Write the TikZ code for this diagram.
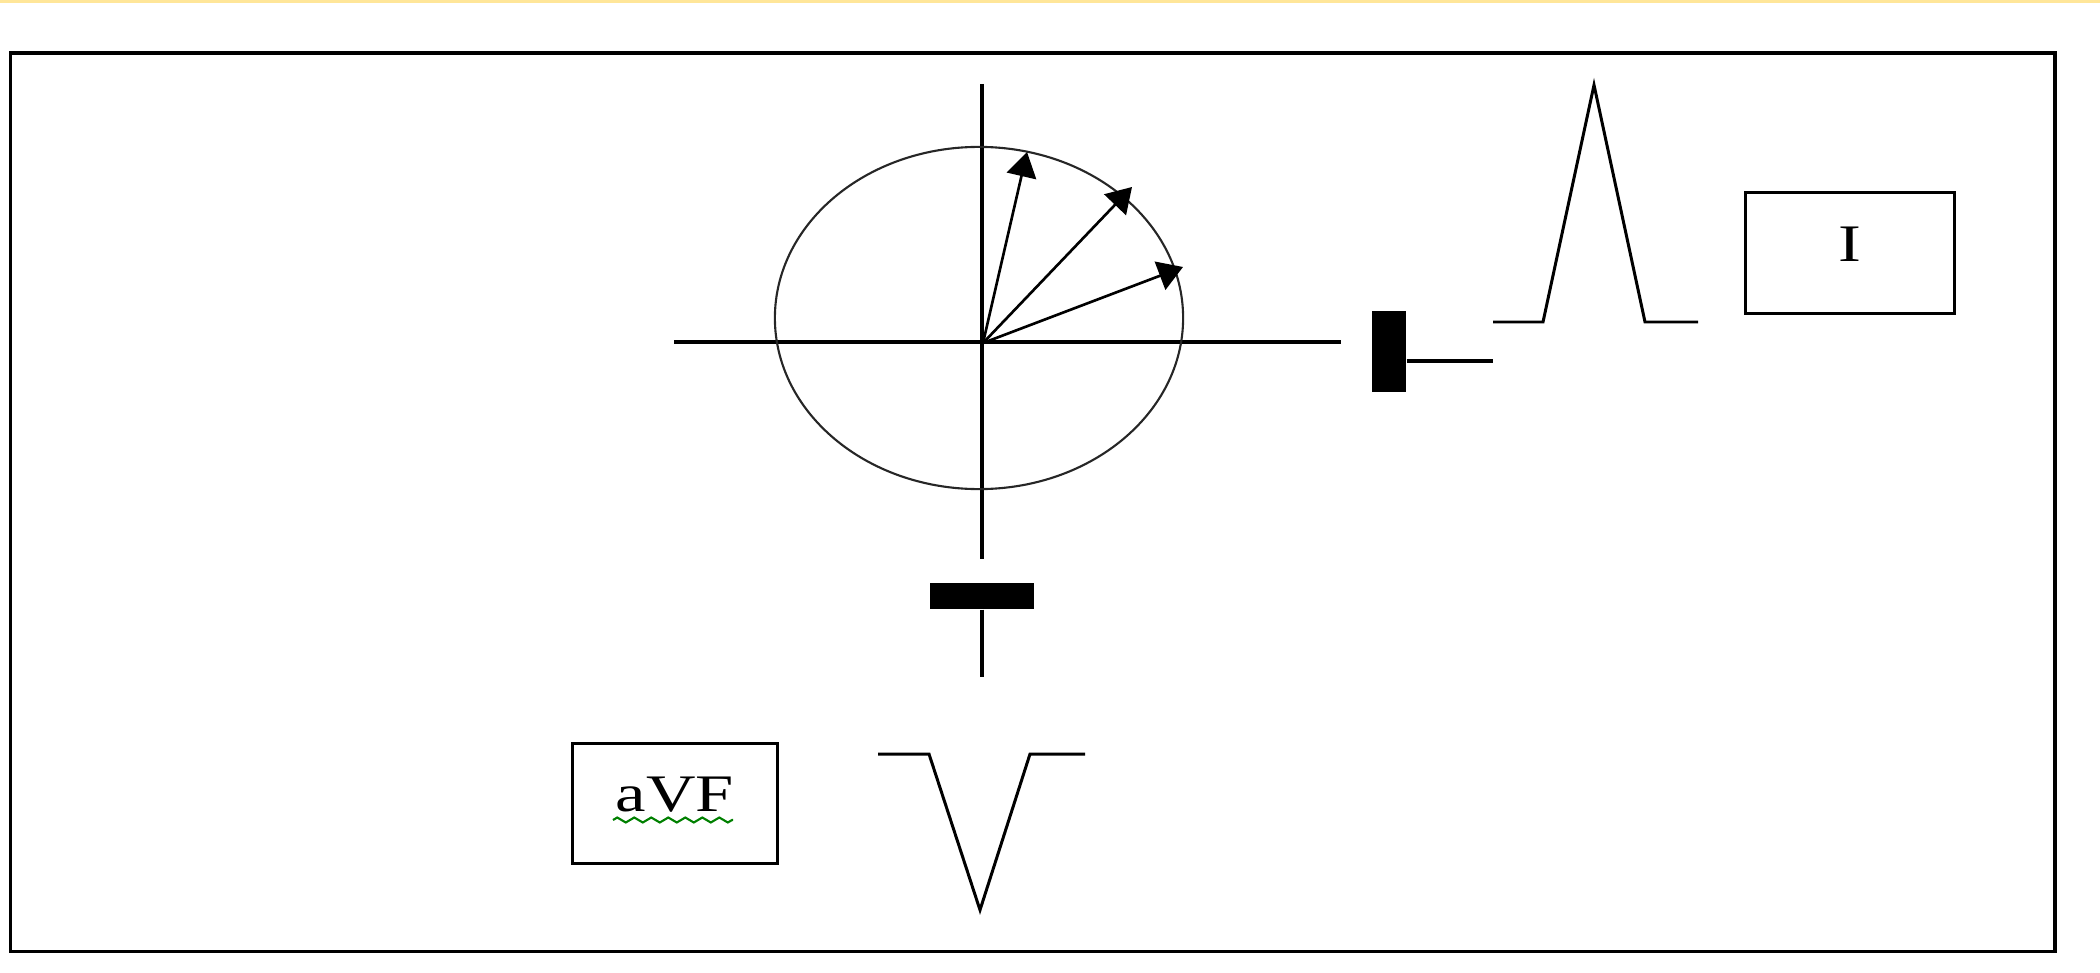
\documentclass[tikz,border=0pt]{standalone}
\usepackage{fontspec}
\setmainfont{Liberation Serif}
\newfontfamily\leadfont[FakeStretch=1.3]{Liberation Serif}
\usetikzlibrary{arrows.meta,decorations.pathmorphing}
\definecolor{topbar}{HTML}{FFE699}
\definecolor{spellgreen}{HTML}{008000}
\begin{document}
\begin{tikzpicture}[
                x=0.01cm, y=-0.01cm,
                axis/.style={line width=0.95pt},
                vec/.style={line width=0.75pt, -{Triangle[length=7pt,width=8.5pt]}},
                wave/.style={line width=0.85pt},
                electrode/.style={fill=black, inner sep=0pt},
                lead/.style={draw, line width=0.85pt, minimum width=2.04cm, minimum height=1.19cm,
                        text depth=5pt, font=\leadfont\fontsize{15pt}{18pt}\selectfont}
            ]

            \useasboundingbox (0,0) rectangle (2100,973);
            \fill[topbar] (0,0) rectangle (2100,3.5);
            \draw[line width=1pt] (10.5,53) rectangle (2055,951.5);

            \coordinate (axL) at (674,342);
            \coordinate (axR) at (1341,342);
            \coordinate (axT) at (982,84);
            \coordinate (axB) at (982,558.5);
            \coordinate (O) at (983,343);
            \coordinate (v1) at (1027,152);
            \coordinate (v2) at (1132,187);
            \coordinate (v3) at (1183,267);

            \draw[axis] (axL) -- (axR);
            \draw[axis] (axT) -- (axB);
            \draw[line width=0.6pt, black!85] (979,318) ellipse [x radius=2.04cm, y radius=1.71cm];
            \foreach \v in {v1,v2,v3}
                \draw[vec] (O) -- (\v);

            \node[electrode, minimum width=0.34cm, minimum height=0.81cm] (elecI) at (1389,351.5) {};
            \node[electrode, minimum width=1.03cm, minimum height=0.26cm] (elecF) at (982,596) {};
            \coordinate (wireI) at (1493,361);
            \coordinate (wireF) at (982,677);
            \draw[axis] (elecI.east |- wireI) -- (wireI);
            \draw[axis] (elecF.south) -- (wireF);

            \draw[wave] (1493,322) -- (1543,322) -- (1594,85) -- (1645,322) -- (1698,322);
            \draw[wave] (878,754) -- (929,754) -- (980,910) -- (1030,754) -- (1085,754);

            \node[lead, minimum width=2.08cm, minimum height=1.2cm] (leadI) at (1850,253) {I};
            \node[lead] (leadF) at (675,803.5) {aVF};
            \draw[spellgreen, line width=0.6pt, decorate,
                decoration={zigzag, segment length=0.17cm, amplitude=0.025cm}] (613,820) -- (733,820);

        \end{tikzpicture}
\end{document}
